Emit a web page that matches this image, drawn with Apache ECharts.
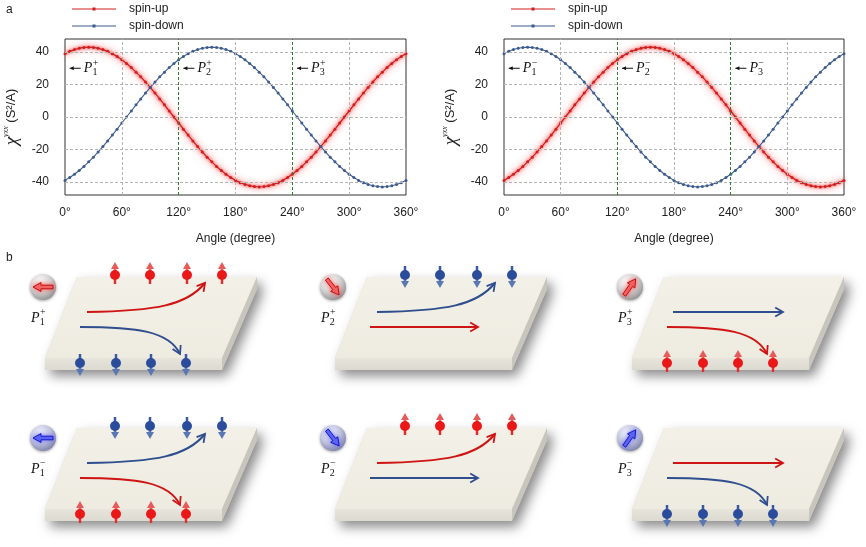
<!DOCTYPE html>
<html>
<head>
<meta charset="utf-8">
<script src="https://cdn.jsdelivr.net/npm/echarts@6/dist/echarts.min.js"></script>
<style>
html, body { margin: 0; padding: 0; background: #fff; }
#chart { width: 866px; height: 547px; }
</style>
</head>
<body>
<div id="chart"></div>
<script>
// angle samples (degree) and the two read-off curves
const angles = [0,5,10,15,20,25,30,35,40,45,50,55,60,65,70,75,80,85,90,95,100,105,110,115,120,
  125,130,135,140,145,150,155,160,165,170,175,180,185,190,195,200,205,210,215,220,225,230,235,240,
  245,250,255,260,265,270,275,280,285,290,295,300,305,310,315,320,325,330,335,340,345,350,355,360];
const curveA = [39.0,40.4,41.5,42.3,42.8,43.0,42.8,42.3,41.5,40.4,39.0,37.2,35.2,32.9,30.4,27.6,24.7,
  21.5,18.2,14.7,11.1,7.5,3.7,0.0,-3.7,-7.5,-11.1,-14.7,-18.2,-21.5,-24.7,-27.6,-30.4,-32.9,-35.2,-37.2,
  -39.0,-40.4,-41.5,-42.3,-42.8,-43.0,-42.8,-42.3,-41.5,-40.4,-39.0,-37.2,-35.2,-32.9,-30.4,-27.6,-24.7,
  -21.5,-18.2,-14.7,-11.1,-7.5,-3.7,0.0,3.7,7.5,11.1,14.7,18.2,21.5,24.7,27.6,30.4,32.9,35.2,37.2,39.0];
const curveB = [-39.0,-37.2,-35.2,-32.9,-30.4,-27.6,-24.7,-21.5,-18.2,-14.7,-11.1,-7.5,-3.7,0.0,3.7,7.5,
  11.1,14.7,18.2,21.5,24.7,27.6,30.4,32.9,35.2,37.2,39.0,40.4,41.5,42.3,42.8,43.0,42.8,42.3,41.5,40.4,
  39.0,37.2,35.2,32.9,30.4,27.6,24.7,21.5,18.2,14.7,11.1,7.5,3.7,0.0,-3.7,-7.5,-11.1,-14.7,-18.2,-21.5,
  -24.7,-27.6,-30.4,-32.9,-35.2,-37.2,-39.0,-40.4,-41.5,-42.3,-42.8,-43.0,-42.8,-42.3,-41.5,-40.4,-39.0];
const yGridValues = [-40, -20, 0, 20, 40];
const xGridValues = [60, 180, 300];
const phaseAngles = [120, 240];
const pointerAngles = [5, 125, 245];
const pointerLevel = 30;
const legendNames = ['spin-up', 'spin-down'];

const RED = '#d01f1f';
const BLUE = '#3d5a8e';
const FONT = 'Liberation Sans, Arial, sans-serif';
const SERIF = 'Liberation Serif, Times New Roman, serif';

const chart = echarts.init(document.getElementById('chart'));

function pairs(ys) {
  return angles.map((a, i) => [a, ys[i]]);
}

function lineSeries(name, ys, gi, color, glow) {
  return {
    name, type: 'line', xAxisIndex: gi, yAxisIndex: gi, data: pairs(ys),
    symbol: 'circle', symbolSize: 3, color, z: glow ? 3 : 4,
    itemStyle: { color },
    lineStyle: glow
      ? { width: 1.3, color, shadowBlur: 5, shadowColor: 'rgba(255,30,30,0.8)' }
      : { width: 1.1, color },
    animation: false
  };
}

// soft red halo under the spin-up curve
function glowSeries(ys, gi) {
  return {
    name: 'glow', type: 'line', xAxisIndex: gi, yAxisIndex: gi, data: pairs(ys),
    showSymbol: false, symbol: 'none', z: 2, silent: true,
    lineStyle: { width: 5, color: 'rgba(255,120,120,0.28)', shadowBlur: 9, shadowColor: 'rgba(255,50,50,0.7)' },
    animation: false
  };
}

function guideSeries(gi) {
  const grey = { color: '#b4b4b4', type: [3, 2], width: 1 };
  const green = { color: '#2f7f33', type: [3, 2], width: 1 };
  return {
    type: 'line', xAxisIndex: gi, yAxisIndex: gi, data: [], z: 1, silent: true,
    markLine: {
      symbol: 'none', silent: true, animation: false, label: { show: false },
      data: [
        ...yGridValues.map(v => ({ yAxis: v, lineStyle: grey })),
        ...xGridValues.map(v => ({ xAxis: v, lineStyle: grey })),
        ...phaseAngles.map(v => ({ xAxis: v, lineStyle: green }))
      ]
    }
  };
}

function xAxis(gi) {
  return {
    type: 'value', gridIndex: gi, min: 0, max: 360, interval: 60,
    axisLine: { show: false }, axisTick: { show: false }, splitLine: { show: false },
    axisLabel: { formatter: '{value}°', fontSize: 12, color: '#222', fontFamily: FONT, margin: 12 },
    name: 'Angle (degree)', nameLocation: 'middle', nameGap: 38,
    nameTextStyle: { fontSize: 12, color: '#222', fontFamily: FONT }
  };
}

function yAxis(gi) {
  return {
    type: 'value', gridIndex: gi, min: -48, max: 48, interval: 4,
    axisLine: { show: false }, axisTick: { show: false }, splitLine: { show: false },
    axisLabel: {
      formatter: v => (v % 20 === 0 ? String(v) : ''),
      fontSize: 12, color: '#222', fontFamily: FONT, margin: 16
    },
    name: '{c|χ}{s|yxx}{t| (S²/A)}', nameLocation: 'middle', nameGap: 44,
    nameTextStyle: {
      rich: {
        c: { fontFamily: SERIF, fontStyle: 'italic', fontSize: 19, color: '#222' },
        s: { fontFamily: SERIF, fontStyle: 'italic', fontSize: 8, color: '#222', verticalAlign: 'top', padding: [0, 0, 10, 0] },
        t: { fontFamily: FONT, fontSize: 13, color: '#222' }
      }
    }
  };
}

function legend(left) {
  return {
    left, top: 2, padding: 0, orient: 'vertical', data: legendNames,
    icon: 'path://M0,1.1H44V1.9H0Z M20.5,0H23.5V3H20.5Z',
    itemWidth: 44, itemHeight: 3, itemGap: 3,
    textStyle: { fontSize: 12, color: '#222', fontFamily: FONT, lineHeight: 14, padding: [0, 0, 0, 8] }
  };
}

chart.setOption({
  animation: false,
  legend: [legend(72), legend(511)],
  grid: [
    { left: 65, top: 39, width: 341, height: 156, show: true, borderColor: '#333', borderWidth: 1 },
    { left: 504, top: 39, width: 340, height: 156, show: true, borderColor: '#333', borderWidth: 1 }
  ],
  xAxis: [xAxis(0), xAxis(1)],
  yAxis: [yAxis(0), yAxis(1)],
  series: [
    guideSeries(0),
    glowSeries(curveA, 0),
    lineSeries('spin-up', curveA, 0, RED, true),
    lineSeries('spin-down', curveB, 0, BLUE, false),
    guideSeries(1),
    glowSeries(curveB, 1),
    lineSeries('spin-up', curveB, 1, RED, true),
    lineSeries('spin-down', curveA, 1, BLUE, false)
  ]
});

// ---------- P labels ----------
function pLabel(x, y, n, sign, size) {
  const small = Math.round(size * 0.7);
  return {
    type: 'group', x, y,
    children: [
      { type: 'text', x: 0, y: 0, style: { text: 'P', font: `italic ${size}px ${SERIF}`, fill: '#111', verticalAlign: 'middle' } },
      { type: 'text', x: size * 0.62, y: size * 0.32, style: { text: String(n), font: `${small}px ${SERIF}`, fill: '#111', verticalAlign: 'middle' } },
      { type: 'text', x: size * 0.64, y: -size * 0.38, style: { text: sign, font: `${small}px ${SERIF}`, fill: '#111', verticalAlign: 'middle' } }
    ]
  };
}

const graphics = [
  { type: 'text', left: 6, top: 4, style: { text: 'a', font: `12px ${FONT}`, fill: '#222' } },
  { type: 'text', left: 6, top: 252, style: { text: 'b', font: `12px ${FONT}`, fill: '#222' } }
];

[['+', 0], ['−', 1]].forEach(([sign, gi]) => {
  pointerAngles.forEach((a, i) => {
    const [px, py] = chart.convertToPixel({ gridIndex: gi }, [a, pointerLevel]);
    graphics.push({
      type: 'group', x: px, y: py,
      children: [
        { type: 'line', shape: { x1: 0, y1: 0, x2: 11, y2: 0 }, style: { stroke: '#111', lineWidth: 1 } },
        { type: 'polygon', shape: { points: [[0, 0], [4, -2], [4, 2]] }, style: { fill: '#111' } }
      ]
    });
    graphics.push(pLabel(px + 14, py, i + 1, sign, 14));
  });
});

// ---------- panel b schematic ----------
const PLATE_TOP = [[0, 0], [180, 0], [145, 81], [-32, 81]];
const PLATE_FRONT = [[-32, 81], [145, 81], [145, 93], [-32, 93]];
const PLATE_SIDE = [[180, 0], [145, 81], [145, 93], [180, 12]];
const PLATE_OUTLINE = [[0, 0], [180, 0], [180, 12], [145, 93], [-32, 93], [-32, 81]];
const TOP_ROW_X = [38, 73, 110, 145];
const BOTTOM_ROW_X = [3, 39, 74, 109];
const TOP_ROW_Y = -2, BOTTOM_ROW_Y = 86;

const PATH_RED = '#cf1414';
const PATH_BLUE = '#2e4e8e';
const SPIN = {
  red: { body: '#ea1818', head: '#e65a5a' },
  blue: { body: '#2b4c9b', head: '#5977b3' }
};

const panels = [
  { pos: [77, 277], n: 1, sign: '+', tone: 'red', ang: 180, top: ['red', 'up'], bottom: ['blue', 'down'], upper: ['red', 'curveUp'], lower: ['blue', 'curveDown'] },
  { pos: [367, 277], n: 2, sign: '+', tone: 'red', ang: -52, top: ['blue', 'down'], bottom: null, upper: ['blue', 'curveUp'], lower: ['red', 'straightLow'] },
  { pos: [664, 277], n: 3, sign: '+', tone: 'red', ang: 55, top: null, bottom: ['red', 'up'], upper: ['blue', 'straightUp'], lower: ['red', 'curveDown'] },
  { pos: [77, 428], n: 1, sign: '−', tone: 'blue', ang: 180, top: ['blue', 'down'], bottom: ['red', 'up'], upper: ['blue', 'curveUp'], lower: ['red', 'curveDown'] },
  { pos: [367, 428], n: 2, sign: '−', tone: 'blue', ang: -52, top: ['red', 'up'], bottom: null, upper: ['red', 'curveUp'], lower: ['blue', 'straightLow'] },
  { pos: [664, 428], n: 3, sign: '−', tone: 'blue', ang: 55, top: null, bottom: ['blue', 'down'], upper: ['red', 'straightUp'], lower: ['blue', 'curveDown'] }
];

const PATHS = {
  curveUp: { x1: 10, y1: 35, cpx1: 80, cpy1: 34, cpx2: 110, cpy2: 28, x2: 128, y2: 6 },
  curveDown: { x1: 3, y1: 50, cpx1: 60, cpy1: 50, cpx2: 92, cpy2: 54, x2: 103, y2: 77 },
  straightUp: { x1: 9, y1: 35, x2: 119, y2: 35 },
  straightLow: { x1: 3, y1: 50, x2: 111, y2: 50 }
};

function chevron(x, y, dx, dy, color, len) {
  const L = Math.hypot(dx, dy), ux = dx / L, uy = dy / L;
  const a = Math.PI / 6;
  const p1 = [x - len * (ux * Math.cos(a) - uy * Math.sin(a)), y - len * (uy * Math.cos(a) + ux * Math.sin(a))];
  const p2 = [x - len * (ux * Math.cos(a) + uy * Math.sin(a)), y - len * (uy * Math.cos(a) - ux * Math.sin(a))];
  return { type: 'polyline', shape: { points: [p1, [x, y], p2] }, style: { stroke: color, lineWidth: 1.8, fill: null, lineJoin: 'miter' } };
}

function pathArrow(color, key) {
  const c = color === 'red' ? PATH_RED : PATH_BLUE;
  const s = PATHS[key];
  const out = [];
  if (s.cpx1 !== undefined) {
    out.push({ type: 'bezierCurve', shape: s, style: { stroke: c, lineWidth: 2, fill: null } });
    out.push(chevron(s.x2, s.y2, s.x2 - s.cpx2, s.y2 - s.cpy2, c, 9));
  } else {
    out.push({ type: 'line', shape: s, style: { stroke: c, lineWidth: 2 } });
    out.push(chevron(s.x2, s.y2, 1, 0, c, 9));
  }
  return out;
}

function spin(x, y, color, dir) {
  const d = dir === 'up' ? -1 : 1;
  const col = SPIN[color];
  return [
    { type: 'line', shape: { x1: x, y1: y - d * 9, x2: x, y2: y + d * 7 }, style: { stroke: col.head, lineWidth: 2.6 } },
    { type: 'circle', shape: { cx: x, cy: y, r: 5 }, style: { fill: col.body } },
    { type: 'line', shape: { x1: x, y1: y - d * 9, x2: x, y2: y + d * 3 }, style: { stroke: col.body, lineWidth: 1.4 } },
    { type: 'polygon', shape: { points: [[x - 4, y + d * 6], [x + 4, y + d * 6], [x, y + d * 13]] }, style: { fill: col.head } }
  ];
}

function sphere(cx, cy, tone, angDeg) {
  const stops = tone === 'red'
    ? [{ offset: 0, color: '#ffffff' }, { offset: 0.55, color: '#d2d2d2' }, { offset: 1, color: '#8e8e8e' }]
    : [{ offset: 0, color: '#f4f5ff' }, { offset: 0.55, color: '#bfc3dd' }, { offset: 1, color: '#7b81a9' }];
  const fill = tone === 'red' ? '#f06a6a' : '#5e6cf0';
  const stroke = tone === 'red' ? '#c20d0d' : '#1616c8';
  const a = angDeg * Math.PI / 180;
  const U = [Math.cos(a), -Math.sin(a)], P = [Math.sin(a), Math.cos(a)];
  const local = [[-10, -1.8], [2, -1.8], [2, -4.5], [10, 0], [2, 4.5], [2, 1.8], [-10, 1.8]];
  const pts = local.map(([u, v]) => [cx + u * U[0] + v * P[0], cy + u * U[1] + v * P[1]]);
  return [
    { type: 'circle', shape: { cx, cy, r: 13 }, style: { fill: { type: 'radial', x: 0.38, y: 0.3, r: 0.75, colorStops: stops }, shadowBlur: 3, shadowColor: 'rgba(0,0,0,0.35)', shadowOffsetY: 1 } },
    { type: 'polygon', shape: { points: pts }, style: { fill, stroke, lineWidth: 1, shadowBlur: 5, shadowColor: tone === 'red' ? 'rgba(255,60,60,0.8)' : 'rgba(60,60,255,0.6)' } }
  ];
}

panels.forEach(p => {
  const kids = [
    { type: 'polygon', shape: { points: PLATE_OUTLINE }, style: { fill: '#d8d6cf', shadowBlur: 12, shadowColor: 'rgba(0,0,0,0.45)', shadowOffsetX: 5, shadowOffsetY: 6 } },
    { type: 'polygon', shape: { points: PLATE_TOP }, style: { fill: { type: 'linear', x: 0, y: 0, x2: 0, y2: 1, colorStops: [{ offset: 0, color: '#f3f0e7' }, { offset: 1, color: '#eeebe1' }] } } },
    { type: 'polygon', shape: { points: PLATE_FRONT }, style: { fill: { type: 'linear', x: 0, y: 0, x2: 0, y2: 1, colorStops: [{ offset: 0, color: '#e7e4db' }, { offset: 1, color: '#dcd9d0' }] } } },
    { type: 'polygon', shape: { points: PLATE_SIDE }, style: { fill: '#c8c5bc' } }
  ];
  if (p.top) TOP_ROW_X.forEach(x => kids.push(...spin(x, TOP_ROW_Y, p.top[0], p.top[1])));
  kids.push(...pathArrow(p.upper[0], p.upper[1]));
  kids.push(...pathArrow(p.lower[0], p.lower[1]));
  if (p.bottom) BOTTOM_ROW_X.forEach(x => kids.push(...spin(x, BOTTOM_ROW_Y, p.bottom[0], p.bottom[1])));
  kids.push(...sphere(-34, 10, p.tone, p.ang));
  kids.push(pLabel(-46, 41, p.n, p.sign, 14));
  graphics.push({ type: 'group', x: p.pos[0], y: p.pos[1], children: kids });
});

chart.setOption({ graphic: graphics });
</script>
</body>
</html>
